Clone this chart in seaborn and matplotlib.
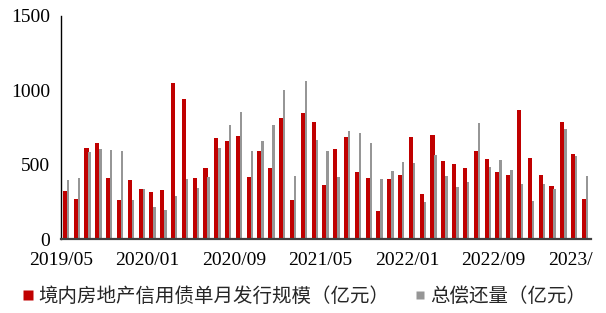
import pandas as pd
import matplotlib.pyplot as plt
import seaborn as sns
import numpy as np
from matplotlib.lines import Line2D
from matplotlib.transforms import Bbox

# ---- data (亿元), 2019/05 - 2023/05 ----
months = pd.date_range('2019-05-01', '2023-05-01', freq='MS').strftime('%Y/%m').tolist()
issue = [326, 270, 613, 644, 408, 264, 394, 336, 313, 329,
         1047, 944, 410, 478, 678, 660, 694, 414, 595, 478,
         813, 259, 849, 784, 365, 606, 687, 451, 412, 189,
         403, 428, 687, 304, 698, 527, 502, 478, 595, 538,
         453, 430, 865, 543, 430, 354, 788, 570, 272]
repay = [399, 412, 583, 608, 601, 595, 261, 336, 212, 194,
         286, 405, 342, 417, 615, 770, 851, 595, 660, 770,
         1005, 424, 1065, 669, 595, 417, 723, 712, 649, 405,
         459, 518, 509, 248, 568, 426, 347, 385, 777, 486,
         534, 462, 367, 257, 372, 338, 739, 561, 426]
tick_labels = ['2019/05', '2020/01', '2020/09', '2021/05', '2022/01', '2022/09', '2023/05']

label_issue = '境内房地产信用债单月发行规模（亿元）'
label_repay = '总偿还量（亿元）'
c_red = '#C00000'
c_gray = '#969696'

df = pd.DataFrame({'month': months, label_issue: issue, label_repay: repay})
long = df.melt(id_vars='month', var_name='series', value_name='value')

sns.set_style('white')
plt.rcParams['font.family'] = ['Liberation Serif', 'Noto Sans CJK SC']

fig = plt.figure(figsize=(6.06, 3.13), dpi=100)
ax = fig.add_axes([0.1007, 0.2364, 0.8743, 0.7126])

sns.barplot(data=long, x='month', y='value', hue='series', order=months,
            palette=[c_red, c_gray], saturation=1, errorbar=None, dodge=True,
            linewidth=0, ax=ax, legend=False)

# 红柱宽、灰柱窄，灰柱紧贴红柱右侧
geom = [(-0.33, 0.38), (0.04, 0.22)]   # (左边相对类别中心的偏移, 宽度)
for cont, (off, w) in zip(ax.containers, geom):
    for i, bar in enumerate(cont):
        bar.set_x(i + off)
        bar.set_width(w)
        bar.set_edgecolor('none')

ax.set_xlim(-0.5, len(months) - 0.5)
ax.set_ylim(0, 1500)
ax.set_yticks([0, 500, 1000, 1500])
ax.set_xticks(np.arange(0, len(months), 8) - 0.5)
ax.set_xticklabels(tick_labels)
ax.set_xlabel('')
ax.set_ylabel('')
ax.tick_params(axis='both', labelsize=14, length=4, width=1, direction='out', colors='black')
ax.tick_params(axis='x', pad=5)
ax.tick_params(axis='y', pad=4)

# 原图最后一个标签被图表区截断，只露出 "2023/"
last = ax.get_xticklabels()[-1]
last.set_clip_on(True)
last.set_clip_box(Bbox.from_extents(0, 0, 593, 313))

sns.despine(ax=ax, top=True, right=True)
ax.spines['left'].set_color('black')
ax.spines['left'].set_linewidth(1)
ax.spines['bottom'].set_color('#404040')
ax.spines['bottom'].set_linewidth(1.6)

handles = [Line2D([], [], marker='s', linestyle='none', markersize=7.4,
                  markerfacecolor=c_red, markeredgecolor='none', label=label_issue),
           Line2D([], [], marker='s', linestyle='none', markersize=5.2,
                  markerfacecolor=c_gray, markeredgecolor='none', label=label_repay)]
fig.legend(handles=handles, loc='center left', bbox_to_anchor=(14.5 / 606, 0.054), ncol=2,
           frameon=False, handlelength=0.6, handletextpad=0.2, borderpad=0.4,
           borderaxespad=0, columnspacing=1.3,
           prop={'family': ['Noto Sans CJK SC'], 'size': 14})

plt.savefig('out.png', dpi=100)
